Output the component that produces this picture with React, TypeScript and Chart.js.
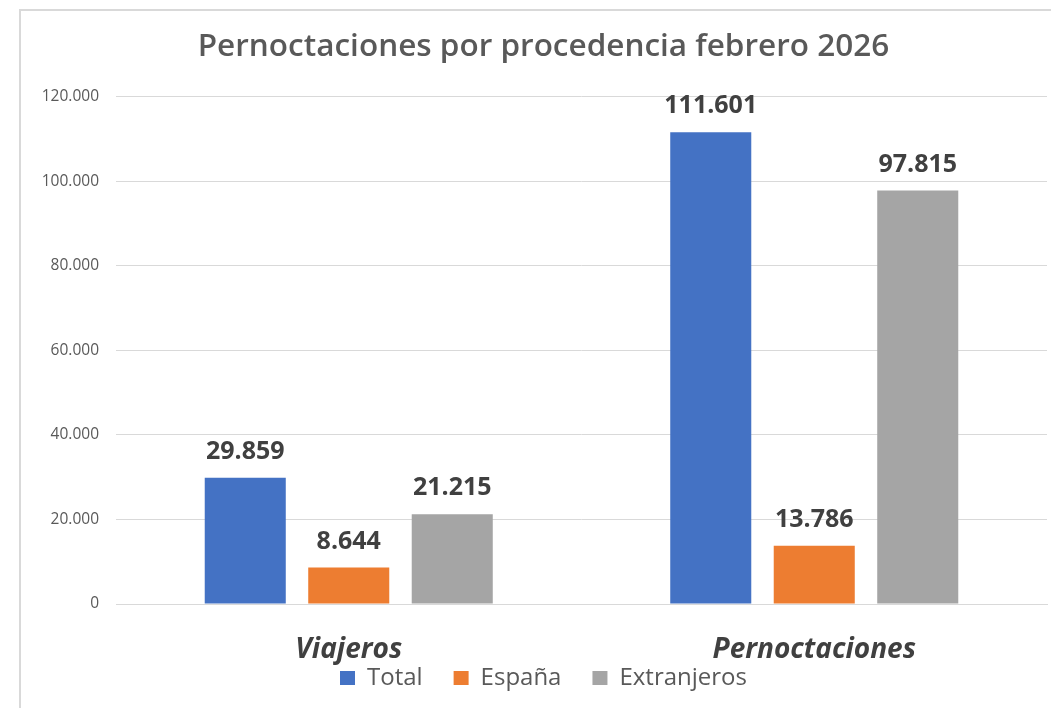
import React, { useEffect, useRef } from "react";
import { Chart, registerables } from "chart.js";

Chart.register(...registerables);

const titleText = "Pernoctaciones por procedencia febrero 2026";
const categories = ["Viajeros", "Pernoctaciones"];
const seriesNames = ["Total", "España", "Extranjeros"];
const totalValues = [29859, 111601];
const espanaValues = [8644, 13786];
const extranjerosValues = [21215, 97815];
const seriesColors = ["#4472C4", "#ED7D31", "#A5A5A5"];
const yMin = 0;
const yMax = 120000;
const yStep = 20000;

const FONT = "'Open Sans', 'DejaVu Sans', sans-serif";

function fmt(v: number): string {
  return String(Math.round(v)).replace(/\B(?=(\d{3})+(?!\d))/g, ".");
}

const framePlugin = {
  id: "frame",
  beforeDraw(chart: any) {
    const ctx = chart.ctx;
    ctx.save();
    ctx.fillStyle = "#ffffff";
    ctx.fillRect(0, 0, chart.width, chart.height);
    ctx.strokeStyle = "#d9d9d9";
    ctx.lineWidth = 2;
    ctx.beginPath();
    ctx.moveTo(20, chart.height);
    ctx.lineTo(20, 10);
    ctx.lineTo(chart.width, 10);
    ctx.stroke();
    ctx.restore();
  },
};

// The category labels sit partly over the legend's empty top padding, as in the
// reference; widen the x scale's label clip box after layout so they stay visible.
const xLabelRoomPlugin = {
  id: "xLabelRoom",
  afterLayout(chart: any) {
    const xs = chart.scales.x;
    if (xs) xs.bottom = chart.height;
  },
};

const dataLabelPlugin = {
  id: "dataLabels",
  afterDatasetsDraw(chart: any) {
    const ctx = chart.ctx;
    ctx.save();
    ctx.font = `bold 25px ${FONT}`;
    ctx.fillStyle = "#404040";
    ctx.textAlign = "center";
    ctx.textBaseline = "middle";
    chart.data.datasets.forEach((ds: any, i: number) => {
      const meta = chart.getDatasetMeta(i);
      meta.data.forEach((el: any, j: number) => {
        ctx.fillText(fmt(ds.data[j]), el.x, el.y - 26);
      });
    });
    ctx.restore();
  },
};

export default function App() {
  const ref = useRef<HTMLCanvasElement | null>(null);
  useEffect(() => {
    if (!ref.current) return;
    const seriesValues = [totalValues, espanaValues, extranjerosValues];
    const chart = new Chart(ref.current, {
      type: "bar",
      data: {
        labels: categories,
        datasets: seriesNames.map((name, i) => ({
          label: name,
          data: seriesValues[i],
          backgroundColor: seriesColors[i],
          borderWidth: 0,
          categoryPercentage: 0.667,
          barPercentage: 0.783,
        })),
      },
      options: {
        animation: false,
        responsive: false,
        devicePixelRatio: 1,
        layout: { padding: { left: 40, right: 4, top: 14, bottom: 8 } },
        plugins: {
          title: {
            display: true,
            text: titleText,
            color: "#595959",
            font: { family: FONT, size: 31.5, weight: "600" },
            padding: { top: 14, bottom: 31 },
          },
          legend: {
            display: true,
            position: "bottom",
            labels: {
              color: "#595959",
              font: { family: FONT, size: 24 },
              boxWidth: 15,
              boxHeight: 14,
              padding: 31,
            },
          },
          tooltip: { enabled: false },
        },
        scales: {
          x: {
            grid: { display: false },
            border: { display: true, color: "#d9d9d9", width: 1 },
            ticks: {
              color: "#404040",
              font: { family: FONT, size: 28, weight: "bold", style: "italic" },
              padding: 21,
            },
            afterFit: (scale: any) => {
              scale.height = 31;
            },
          },
          y: {
            min: yMin,
            max: yMax,
            grid: { color: "#d9d9d9", lineWidth: 1, drawTicks: false },
            border: { display: false },
            ticks: {
              stepSize: yStep,
              color: "#595959",
              font: { family: FONT, size: 15.5 },
              padding: 17,
              callback: (v: any) => fmt(Number(v)),
            },
            afterFit: (scale: any) => {
              scale.width = 76;
            },
          },
        },
      },
      plugins: [framePlugin, xLabelRoomPlugin, dataLabelPlugin],
    });
    return () => chart.destroy();
  }, []);
  return (
    <div style={{ position: "absolute", left: 0, top: 0, width: 1051, height: 708 }}>
      <canvas ref={ref} width={1051} height={708} style={{ width: 1051, height: 708, display: "block" }} />
    </div>
  );
}
